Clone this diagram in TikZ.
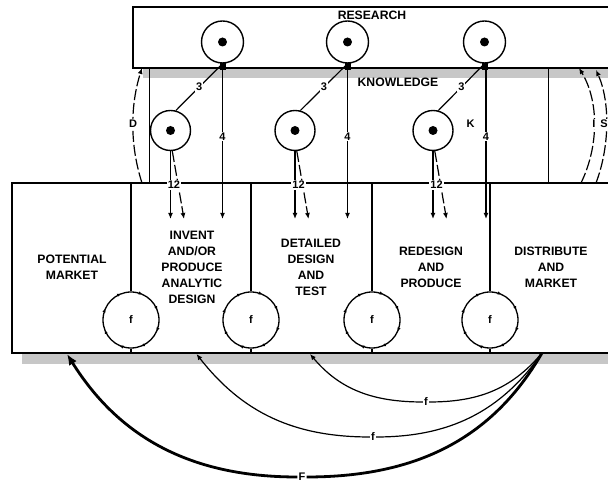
\documentclass[tikz,border=0pt]{standalone}
\usepackage{fontspec}
\setmainfont{Liberation Sans}
\usetikzlibrary{arrows.meta,decorations.markings}

\begin{document}
\begin{tikzpicture}[x=1pt,y=1pt,
  box/.style={draw, fill=white, line width=1.7pt},
  shade/.style={fill=black!22},
  stagetext/.style={font=\bfseries\fontsize{12.2}{16}\selectfont, align=center, inner sep=0pt},
  lbl/.style={font=\bfseries\fontsize{11}{13}\selectfont, fill=white, inner sep=1pt},
  dotcircle/.style={circle, draw, line width=1.4pt, minimum size=42pt, inner sep=0pt},
  loopcircle/.style={circle, draw, line width=1.3pt, minimum size=56pt, inner sep=0pt,
    font=\bfseries\fontsize{11}{13}\selectfont,
    postaction={decorate, decoration={markings,
      mark=between positions 0.06 and 1 step 0.125 with {\arrowreversed{Latex[length=3.5pt,width=3.5pt]}}}}},
  tip/.style={-{Latex[length=6pt,width=5pt]}},
  flow/.style={line width=1.2pt},
  longdash/.style={dash pattern=on 11pt off 3pt},
  divider/.style={line width=1.4pt},
]
\useasboundingbox (0,0) rectangle (608,486);
\clip (0,0) rectangle (608,486);

% Shadows
\fill[shade] (143,408) rectangle (630,469);
\fill[shade] (22,122) rectangle (630,293);

% Research box and stage box
\draw[box] (133,418) rectangle (630,479);
\draw[box] (12,133) rectangle (630,303);
\coordinate (topedge) at (0,303);
\coordinate (botedge) at (0,133);

\node[stagetext] (research) at (372,471) {RESEARCH};
\node[stagetext] (knowledge) at (398,404) {KNOWLEDGE};

% Research circles
\node[dotcircle] (rA) at (222.5,444) {};
\node[dotcircle] (rB) at (347.5,444) {};
\node[dotcircle] (rC) at (484.5,444) {};
\fill (rA) circle (4.5) (rB) circle (4.5) (rC) circle (4.5);
\fill (219.5,416) rectangle (225.5,423);
\fill (344.5,416) rectangle (350.5,423);
\fill (481.5,416) rectangle (487.5,423);

% Knowledge circles
\node[dotcircle, minimum size=40pt] (kA) at (170.5,355.5) {};
\node[dotcircle, minimum size=40pt] (kB) at (295,355.5) {};
\node[dotcircle, minimum size=40pt] (kC) at (433,355.5) {};
\fill (kA) circle (4.5) (kB) circle (4.5) (kC) circle (4.5);
\node[font=\bfseries\fontsize{11}{13}\selectfont] (kLab) at (470.5,362) {K};

% Research to knowledge (3)
\draw[flow] (rA.south) -- node[lbl] (tA) {3} (kA.75);
\draw[flow] (rB.south) -- node[lbl] (tB) {3} (kB.75);
\draw[flow] (rC.south) -- node[lbl] (tC) {3} (kC.75);

% Research to stages (4)
\coordinate (eA) at (222.5,267);
\coordinate (eB) at (347.5,267);
\coordinate (eC) at (486,267);
\draw[flow, tip, line width=1.6pt] (rA.south) -- node[lbl, pos=0.47] (fourA) {4} (eA);
\draw[flow, tip] (rB.south) -- node[lbl, pos=0.47] (fourB) {4} (eB);
\draw[flow, tip] (rC.south) ++(1.5,0) -- node[lbl, pos=0.47] (fourC) {4} (eC);

% Knowledge to stages (12)
\coordinate (gA) at (170.5,267);
\coordinate (hA) at (184,267);
\coordinate (gB) at (295,267);
\coordinate (hB) at (308.5,267);
\coordinate (gC) at (433,267);
\coordinate (hC) at (446.5,267);
\draw[flow, tip] (kA.south) -- (gA);
\draw[flow, tip, longdash] (kA.-85) -- (hA);
\draw[flow, tip] (kB.south) -- (gB);
\draw[flow, tip, longdash] (kB.-85) -- (hB);
\draw[flow, tip] (kC.south) -- (gC);
\draw[flow, tip, longdash] (kC.-85) -- (hC);
\node[lbl] (twA) at (174,301) {12};
\node[lbl] (twB) at (298.5,301) {12};
\node[lbl] (twC) at (436.5,301) {12};

% Links between the two boxes
\draw[line width=0.8pt] (149,303) -- (149,418);
\draw[line width=0.8pt] (548,303) -- (548,418);
\coordinate (dLow) at (142,303);
\coordinate (dUp) at (142,418);
\draw[flow, tip, longdash] (dLow) .. controls (130,340) and (130,380) .. (dUp);
\node[lbl] (dLab) at (133,362) {D};
\coordinate (iLow) at (581,303);
\coordinate (iUp) at (579,418);
\draw[flow, tip, longdash] (iLow) .. controls (599,340) and (599,385) .. (iUp);
\node[lbl] (iLab) at (594,362) {I};
\coordinate (sLow) at (596,303);
\coordinate (sUp) at (596,416);
\draw[flow, tip, longdash] (sLow) .. controls (610,340) and (610,385) .. (sUp);
\node[lbl] (sLab) at (604,362) {S};

% Stages
\node[stagetext] (market) at (72,219) {POTENTIAL\\MARKET};
\node[stagetext] (invent) at (192,219) {INVENT\\AND/OR\\PRODUCE\\ANALYTIC\\DESIGN};
\node[stagetext] (detail) at (311,219) {DETAILED\\DESIGN\\AND\\TEST};
\node[stagetext] (redesign) at (431,219) {REDESIGN\\AND\\PRODUCE};
\node[stagetext] (distrib) at (551,219) {DISTRIBUTE\\AND\\MARKET};

% Feedback loops on the dividers
\node[loopcircle] (fA) at (131,166) {f};
\node[loopcircle] (fB) at (251,166) {f};
\node[loopcircle] (fC) at (372,166) {f};
\node[loopcircle] (fD) at (490,166) {f};
\draw[divider] (fA.north |- topedge) -- (fA.north);
\draw[divider] (fA.south) -- (fA.south |- botedge);
\draw[divider] (fB.north |- topedge) -- (fB.north);
\draw[divider] (fB.south) -- (fB.south |- botedge);
\draw[divider] (fC.north |- topedge) -- (fC.north);
\draw[divider] (fC.south) -- (fC.south |- botedge);
\draw[divider] (fD.north |- topedge) -- (fD.north);
\draw[divider] (fD.south) -- (fD.south |- botedge);

% Feedback from market
\coordinate (src) at (542,133);
\coordinate (tMarket) at (67,132);
\coordinate (tInvent) at (196.5,132);
\coordinate (tDetail) at (310,132);
\node[lbl] (fUp) at (426,84) {f};
\node[lbl] (fMid) at (373,49) {f};
\node[lbl] (bigF) at (302,9) {F};
\draw[flow, tip] (src) to[out=-130,in=0] (fUp) to[out=180,in=-50] (tDetail);
\draw[flow, tip] (src) to[out=-125,in=0] (fMid) to[out=180,in=-52] (tInvent);
\draw[line width=2.8pt, -{Latex[length=11pt,width=9pt]}] (src) to[out=-120,in=0] (bigF) to[out=180,in=-58] (tMarket);

\end{tikzpicture}
\end{document}
